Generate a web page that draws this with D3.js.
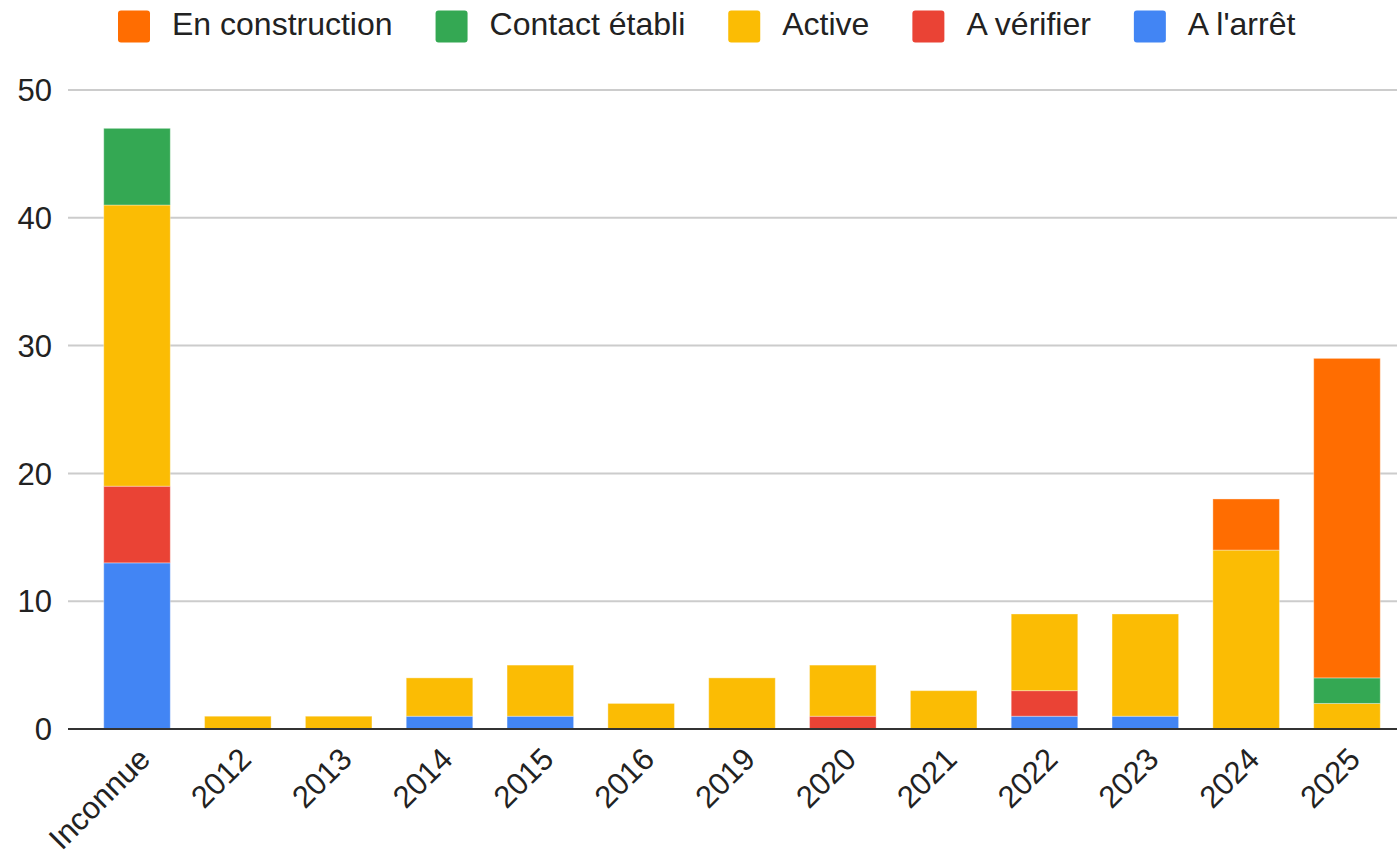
<!DOCTYPE html>
<html><head><meta charset="utf-8">
<script src="https://cdn.jsdelivr.net/npm/d3@7"></script>
<style>body{margin:0;background:#fff}svg{display:block}text{font-family:"Liberation Sans",Arial,sans-serif;fill:#222}</style>
</head><body><svg id="c" width="1399" height="857"></svg>
<script>
const categories = ["Inconnue","2012","2013","2014","2015","2016","2019","2020","2021","2022","2023","2024","2025"];
const seriesNames = ["A l'arrêt","A vérifier","Active","Contact établi","En construction"];
const seriesColors = ["#4285F4","#EA4335","#FBBC04","#34A853","#FF6D01"];
const arret        = [13,0,0,1,1,0,0,0,0,1,1,0,0];
const verifier     = [6,0,0,0,0,0,0,1,0,2,0,0,0];
const active       = [22,1,1,3,4,2,4,4,3,6,8,14,2];
const contact      = [6,0,0,0,0,0,0,0,0,0,0,0,2];
const construction = [0,0,0,0,0,0,0,0,0,0,0,4,25];
const yTicks = [0,10,20,30,40,50];

const seriesValues = [arret, verifier, active, contact, construction];
const rows = categories.map((c,i)=>{const r={cat:c}; seriesNames.forEach((s,j)=>r[s]=seriesValues[j][i]); return r;});
const stack = d3.stack().keys(seriesNames)(rows);

const svg = d3.select("#c");
const gridL = 68, gridR = 1397;
const FS = 31;
const x = d3.scaleBand().domain(categories).range([86.6,1397.4]).paddingInner(0.34).paddingOuter(0.17);
const y = d3.scaleLinear().domain([0,50]).range([729,90]);

// gridlines
svg.append("g").selectAll("line").data(yTicks.filter(t=>t>0)).join("line")
  .attr("x1",gridL).attr("x2",gridR).attr("y1",d=>y(d)).attr("y2",d=>y(d))
  .attr("stroke","#cccccc").attr("stroke-width",2);

// y labels
svg.append("g").selectAll("text").data(yTicks).join("text")
  .attr("x",52).attr("y",d=>y(d)).attr("dy","0.36em").attr("text-anchor","end")
  .attr("font-size",FS).text(d=>d);

// bars
svg.append("g").selectAll("g").data(stack).join("g")
  .attr("fill",(d,i)=>seriesColors[i])
  .selectAll("rect").data(d=>d.filter(p=>p[1]-p[0]>0)).join("rect")
  .attr("x",d=>x(d.data.cat)).attr("width",x.bandwidth())
  .attr("y",d=>y(d[1])).attr("height",d=>y(d[0])-y(d[1]))
  .attr("stroke","#ffffff").attr("stroke-opacity",0.35).attr("stroke-width",1);

// baseline
svg.append("line").attr("x1",gridL).attr("x2",gridR).attr("y1",y(0)).attr("y2",y(0))
  .attr("stroke","#333333").attr("stroke-width",2);

// x labels
svg.append("g").selectAll("text").data(categories).join("text")
  .attr("transform",d=>`translate(${x(d)+x.bandwidth()/2+15},${761}) rotate(-45)`)
  .attr("text-anchor","end").attr("font-size",FS).text(d=>d);

// legend
const legendOrder = [4,3,2,1,0];
const lg = svg.append("g");
let lx = 118;
legendOrder.forEach(j=>{
  lg.append("rect").attr("x",lx).attr("y",10.5).attr("width",32).attr("height",32).attr("rx",3)
    .attr("fill",seriesColors[j]);
  const t = lg.append("text").attr("x",lx+54).attr("y",35).attr("font-size",32).text(seriesNames[j]);
  lx = lx + 54 + t.node().getComputedTextLength() + 43;
});
</script></body></html>
